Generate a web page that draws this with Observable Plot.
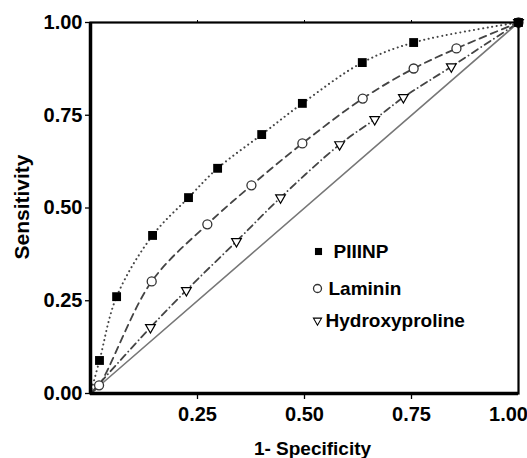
<!DOCTYPE html>
<html>
<head>
<meta charset="utf-8">
<script src="https://cdn.jsdelivr.net/npm/d3@7"></script>
<script src="https://cdn.jsdelivr.net/npm/@observablehq/plot@0.6"></script>
<style>
  html, body { margin: 0; padding: 0; background: #fff; }
  #chart { width: 527px; height: 458px; }
</style>
</head>
<body>
<div id="chart"></div>
<script>
// Series names
const seriesNames = ["PIIINP", "Laminin", "Hydroxyproline"];

// PIIINP (first point = curve origin, not marked)
const piiinpX = [0, 0.021, 0.061, 0.145, 0.229, 0.297, 0.400, 0.495, 0.635, 0.755, 1.0];
const piiinpY = [0, 0.089, 0.261, 0.426, 0.528, 0.607, 0.698, 0.782, 0.892, 0.946, 1.0];

// Laminin
const lamininX = [0, 0.020, 0.143, 0.273, 0.376, 0.495, 0.636, 0.755, 0.855, 1.0];
const lamininY = [0, 0.022, 0.302, 0.456, 0.561, 0.674, 0.795, 0.876, 0.930, 1.0];

// Hydroxyproline
const hydroxyX = [0, 0.140, 0.224, 0.341, 0.444, 0.582, 0.664, 0.731, 0.843, 1.0];
const hydroxyY = [0, 0.178, 0.278, 0.410, 0.528, 0.671, 0.739, 0.798, 0.881, 1.0];

// Reference diagonal
const diagX = [0, 1];
const diagY = [0, 1];

// Ticks
const xTicks = [0.25, 0.50, 0.75];
const xTickLabels = ["0.25", "0.50", "0.75"];
const xLastTick = [1.00];
const xLastTickLabel = "1.00";
const yTicks = [0, 0.25, 0.50, 0.75, 1.00];
const yTickLabels = ["0.00", "0.25", "0.50", "0.75", "1.00"];

const xLabel = "1- Specificity";
const yLabel = "Sensitivity";

const toRows = (xs, ys, name) => xs.map((x, i) => ({x, y: ys[i], series: name, i}));
const piiinp = toRows(piiinpX, piiinpY, seriesNames[0]);
const laminin = toRows(lamininX, lamininY, seriesNames[1]);
const hydroxy = toRows(hydroxyX, hydroxyY, seriesNames[2]);
const diag = toRows(diagX, diagY, "diag");

const legend = seriesNames.map((name, i) => ({name, i}));
const legendDy = [229, 266, 298];

const font = "'Liberation Sans', Arial, Helvetica, sans-serif";

const chart = Plot.plot({
  width: 527,
  height: 458,
  marginLeft: 90,
  marginRight: 9,
  marginTop: 22,
  marginBottom: 65,
  style: {fontFamily: font, fontWeight: "bold", background: "#fff", color: "#000"},
  x: {domain: [0, 1]},
  y: {domain: [0, 1]},
  marks: [
    Plot.line(diag, {x: "x", y: "y", stroke: "#777", strokeWidth: 1.6}),
    Plot.line(piiinp, {x: "x", y: "y", curve: "catmull-rom", stroke: "#444", strokeWidth: 2, strokeDasharray: "0.1,4.5", strokeLinecap: "round"}),
    Plot.line(laminin, {x: "x", y: "y", curve: "catmull-rom", stroke: "#444", strokeWidth: 1.8, strokeDasharray: "7,5"}),
    Plot.line(hydroxy, {x: "x", y: "y", curve: "catmull-rom", stroke: "#444", strokeWidth: 1.8, strokeDasharray: "7,4,0.1,4", strokeLinecap: "round"}),
    Plot.dot(hydroxy.filter(d => d.i > 0), {x: "x", y: "y", symbol: "triangle", r: 3.6, rotate: 180, fill: "#fff", stroke: "#000", strokeWidth: 1.2}),
    Plot.dot(laminin.filter(d => d.i > 0), {x: "x", y: "y", symbol: "circle", r: 4.5, fill: "#fff", stroke: "#333", strokeWidth: 1.3}),
    Plot.dot(piiinp.filter(d => d.i > 0), {x: "x", y: "y", symbol: "square", r: 5, fill: "#000", stroke: "none"}),
    Plot.frame({stroke: "#000", strokeWidth: 2.2}),
    Plot.ruleX([0], {stroke: "#000", strokeWidth: 3.5}),
    Plot.ruleY([0], {stroke: "#000", strokeWidth: 3.5}),
    Plot.axisX(xTicks, {anchor: "bottom", tickSize: 6, tickPadding: 7, fontSize: 20, tickFormat: (d, i) => xTickLabels[i], strokeWidth: 1.3, label: null}),
    Plot.axisX(xLastTick, {anchor: "bottom", tickSize: 0, tickPadding: 13, dx: -10, fontSize: 20, tickFormat: () => xLastTickLabel, label: null}),
    Plot.axisX([0.25, 0.5, 0.75], {anchor: "top", tickSize: 3, tickFormat: () => "", label: null}),
    Plot.axisY(yTicks, {anchor: "left", tickSize: 5, tickPadding: 3, fontSize: 20, tickFormat: (d, i) => yTickLabels[i], strokeWidth: 1.3, label: null}),
    // legend
    Plot.dot(legend.filter(d => d.i === 0), {frameAnchor: "top-left", dx: 228, dy: legendDy[0], symbol: "square", r: 4, fill: "#000"}),
    Plot.dot(legend.filter(d => d.i === 1), {frameAnchor: "top-left", dx: 227, dy: legendDy[1], symbol: "circle", r: 4, fill: "#fff", stroke: "#333", strokeWidth: 1.3}),
    Plot.dot(legend.filter(d => d.i === 2), {frameAnchor: "top-left", dx: 227, dy: legendDy[2], symbol: "triangle", rotate: 180, r: 3, fill: "#fff", stroke: "#000", strokeWidth: 1.1}),
    Plot.text(legend.filter(d => d.i === 0), {text: "name", frameAnchor: "top-left", dx: 243, dy: legendDy[0], textAnchor: "start", lineAnchor: "middle", fontSize: 19, fontWeight: "bold", fill: "#000"}),
    Plot.text(legend.filter(d => d.i === 1), {text: "name", frameAnchor: "top-left", dx: 238, dy: legendDy[1], textAnchor: "start", lineAnchor: "middle", fontSize: 19, fontWeight: "bold", fill: "#000"}),
    Plot.text(legend.filter(d => d.i === 2), {text: "name", frameAnchor: "top-left", dx: 235, dy: legendDy[2], textAnchor: "start", lineAnchor: "middle", fontSize: 19, fontWeight: "bold", fill: "#000"}),
    // axis titles
    Plot.text([xLabel], {frameAnchor: "bottom", textAnchor: "middle", lineAnchor: "middle", dx: 8, dy: 55, fontSize: 19, fontWeight: "bold", fill: "#000"}),
    Plot.text([yLabel], {frameAnchor: "left", textAnchor: "middle", lineAnchor: "middle", dx: -68, dy: -1, rotate: -90, fontSize: 21, fontWeight: "bold", fill: "#000"})
  ]
});
document.getElementById("chart").appendChild(chart);
</script>
</body>
</html>
